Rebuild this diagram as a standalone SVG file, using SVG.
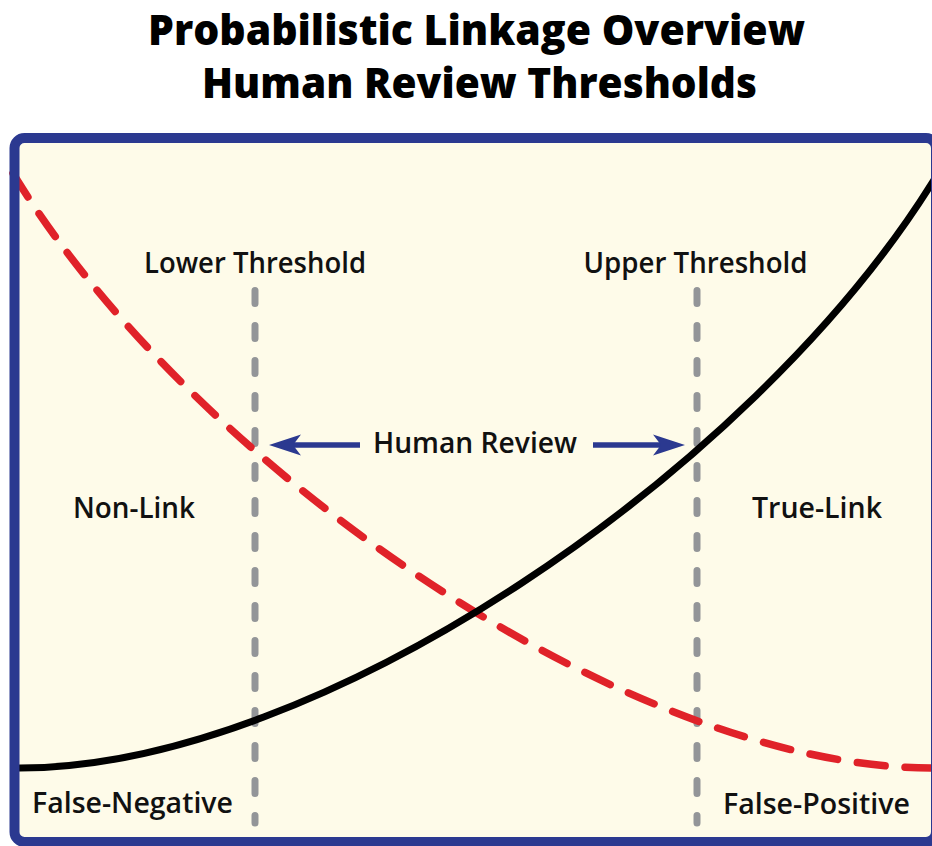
<svg xmlns="http://www.w3.org/2000/svg" width="932" height="846" viewBox="0 0 932 846">
<style>
.title{font-family:"Open Sans","Liberation Sans",sans-serif;font-weight:800;font-size:42px;fill:#000;text-anchor:middle}
.lbl{font-family:"Open Sans","Liberation Sans",sans-serif;font-weight:600;font-size:29px;fill:#111;text-anchor:middle}
.thr{fill:none;stroke:#939598;stroke-width:7;stroke-linecap:round;stroke-dasharray:13 22}
.arrow{stroke:#2B3990;stroke-width:5.5;fill:none}
</style>
<defs>
<marker id="head" viewBox="-33 -11 34 22" refX="-20" refY="0" markerWidth="34" markerHeight="22" markerUnits="userSpaceOnUse" orient="auto">
<path d="M0,0 L-32,-10.5 L-24,0 L-32,10.5 Z" fill="#2B3990"/>
</marker>
</defs>
<rect width="932" height="846" fill="#FFFFFF"/>
<g id="title">
<text class="title" x="476.5" y="45" textLength="657" lengthAdjust="spacingAndGlyphs">Probabilistic Linkage Overview</text>
<text class="title" x="479.5" y="98" textLength="555" lengthAdjust="spacingAndGlyphs">Human Review Thresholds</text>
</g>
<rect id="panel-fill" x="14.5" y="138" width="921.5" height="704" rx="10" fill="#FEFBE9"/>
<g id="connectors">
<line id="lower-threshold-line" class="thr" x1="255" y1="290.5" x2="255" y2="823"/>
<line id="upper-threshold-line" class="thr" x1="697" y1="290.5" x2="697" y2="823"/>
<path id="false-curve" d="M13,173.4 L19,183 C199,471 631,768 931,768 L945,768" fill="none" stroke="#E02229" stroke-width="7.5" stroke-linecap="round" stroke-dasharray="28 20"/>
<path id="true-curve" d="M12,768 L20,768 C320,768 752,471 932,183 L940,170.2" fill="none" stroke="#000" stroke-width="7"/>
<line class="arrow" x1="360" y1="445" x2="289" y2="445" marker-end="url(#head)"/>
<line class="arrow" x1="593" y1="445" x2="665" y2="445" marker-end="url(#head)"/>
</g>
<rect id="panel-frame" x="14.5" y="138" width="921.5" height="704" rx="10" fill="none" stroke="#2B3990" stroke-width="10"/>
<g id="lower-threshold"><text class="lbl" x="255" y="273" textLength="222" lengthAdjust="spacingAndGlyphs">Lower Threshold</text></g>
<g id="upper-threshold"><text class="lbl" x="695.5" y="273" textLength="224" lengthAdjust="spacingAndGlyphs">Upper Threshold</text></g>
<g id="human-review"><text class="lbl" x="475" y="453" textLength="204" lengthAdjust="spacingAndGlyphs">Human Review</text></g>
<g id="non-link"><text class="lbl" x="134" y="518" textLength="122" lengthAdjust="spacingAndGlyphs">Non-Link</text></g>
<g id="true-link"><text class="lbl" x="817" y="518" textLength="130" lengthAdjust="spacingAndGlyphs">True-Link</text></g>
<g id="false-negative"><text class="lbl" x="132.5" y="813" textLength="201" lengthAdjust="spacingAndGlyphs">False-Negative</text></g>
<g id="false-positive"><text class="lbl" x="816.5" y="814" textLength="187" lengthAdjust="spacingAndGlyphs">False-Positive</text></g>
</svg>
